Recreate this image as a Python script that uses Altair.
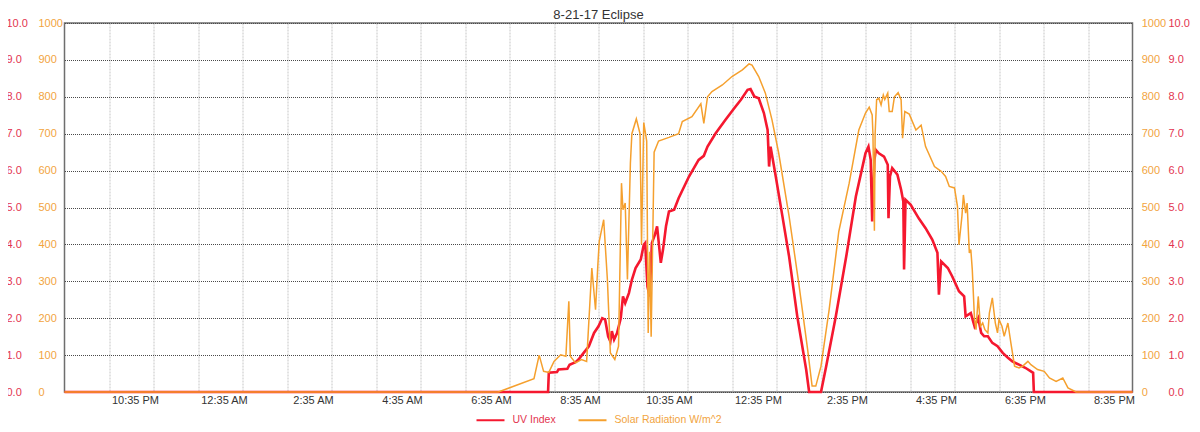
import altair as alt
import pandas as pd

TITLE = "8-21-17 Eclipse"
START = "2017-08-20 21:00"
END = "2017-08-21 21:00"
DAY = "2017-08-21"

SERIES = ["UV Index", "Solar Radiation W/m^2"]

uv_times = ["07:52", "07:53", "08:04", "08:06", "08:18", "08:21", "08:29", "08:33", "08:40", "08:47",
            "08:54", "09:00", "09:05", "09:09", "09:13", "09:16", "09:18", "09:21", "09:25", "09:30",
            "09:33", "09:36", "09:41", "09:45", "09:50", "09:57", "10:01", "10:03", "10:06", "10:09",
            "10:12", "10:16", "10:19", "10:24", "10:27", "10:31", "10:35", "10:42", "10:48", "11:02",
            "11:15", "11:22", "11:27", "11:38", "11:51", "12:03", "12:12", "12:21", "12:25", "12:30",
            "12:36", "12:43", "12:48", "12:50", "12:52", "12:59", "13:08", "13:17", "13:28", "13:40",
            "13:44", "14:00", "14:07", "14:20", "14:34", "14:47", "14:55", "15:00", "15:04", "15:07",
            "15:09", "15:12", "15:14", "15:18", "15:25", "15:30", "15:31", "15:33", "15:36", "15:43",
            "15:48", "15:51", "15:52", "15:54", "16:01", "16:12", "16:21", "16:30", "16:37", "16:39",
            "16:42", "16:51", "16:57", "17:06", "17:13", "17:15", "17:22", "17:27", "17:32", "17:36",
            "17:40", "17:45", "17:51", "17:58", "18:05", "18:12", "18:18", "18:27", "18:36", "18:43",
            "18:46", "18:47"]
uv_values = [0, 0.52, 0.54, 0.61, 0.63, 0.74, 0.81, 0.88, 1.06, 1.24,
             1.6, 1.78, 2.0, 1.96, 1.51, 1.37, 1.65, 1.42, 1.6, 2.0,
             2.59, 2.41, 2.68, 3.04, 3.36, 3.59, 3.99, 4.04, 2.86, 2.59,
             4.04, 4.26, 4.49, 3.5, 3.86, 4.49, 4.89, 4.94, 5.25, 5.84,
             6.29, 6.4, 6.65, 7.01, 7.37, 7.69, 7.92, 8.19, 8.21, 8.01,
             7.96, 7.56, 7.1, 6.11, 6.65, 5.84, 4.76, 3.67, 2.05, 0.61,
             0, 0, 0.7, 2.05, 3.67, 5.3, 6.02, 6.47, 6.65, 6.29,
             4.62, 6.29, 6.56, 6.47, 6.38, 6.16, 4.71, 5.84, 6.07, 5.89,
             5.48, 5.16, 3.32, 5.21, 5.07, 4.7, 4.44, 4.13, 3.77, 2.64,
             3.54, 3.36, 3.13, 2.73, 2.59, 2.05, 2.14, 1.78, 2.0, 1.6,
             1.51, 1.51, 1.33, 1.24, 1.06, 0.93, 0.83, 0.74, 0.65, 0.56,
             0.52, 0]

solar_times = ["06:45", "07:33", "07:40", "07:46", "07:53", "08:00", "08:09", "08:16", "08:20", "08:22",
               "08:29", "08:37", "08:44", "08:51", "08:56", "08:59", "09:01", "09:07", "09:12", "09:16",
               "09:22", "09:27", "09:31", "09:33", "09:36", "09:39", "09:43", "09:45", "09:51", "09:56",
               "09:58", "10:01", "10:05", "10:07", "10:09", "10:11", "10:15", "10:21", "10:35", "10:48",
               "10:53", "11:06", "11:18", "11:22", "11:27", "11:33", "11:47", "12:00", "12:14", "12:23",
               "12:27", "12:36", "12:45", "12:54", "13:03", "13:17", "13:30", "13:42", "13:48", "13:53",
               "14:00", "14:11", "14:24", "14:38", "14:51", "15:00", "15:05", "15:09", "15:10", "15:12",
               "15:13", "15:15", "15:18", "15:21", "15:24", "15:26", "15:30", "15:32", "15:36", "15:39",
               "15:44", "15:48", "15:50", "15:53", "15:59", "16:08", "16:15", "16:21", "16:33", "16:42",
               "16:48", "16:53", "17:00", "17:04", "17:06", "17:10", "17:12", "17:15", "17:17", "17:20",
               "17:22", "17:24", "17:27", "17:29", "17:32", "17:35", "17:38", "17:41", "17:45", "17:47",
               "17:51", "17:55", "17:58", "18:00", "18:04", "18:07", "18:12", "18:16", "18:21", "18:27",
               "18:32", "18:39", "18:43", "18:52", "19:01", "19:08", "19:17", "19:26", "19:33", "19:44"]
solar_values = [0, 36, 100, 56, 53, 83, 101, 97, 246, 97,
                79, 88, 83, 336, 223, 340, 408, 467, 304, 106,
                88, 124, 566, 494, 512, 305, 620, 700, 740, 700,
                400, 730, 680, 160, 380, 150, 650, 680, 690, 700,
                733, 746, 781, 728, 800, 814, 832, 855, 873, 889,
                886, 855, 810, 737, 647, 476, 295, 115, 16, 16,
                70, 223, 435, 566, 710, 756, 772, 751, 701, 437,
                701, 792, 796, 778, 805, 793, 810, 760, 760, 800,
                811, 792, 688, 760, 753, 710, 723, 665, 611, 598,
                584, 557, 553, 503, 399, 476, 534, 485, 512, 377,
                386, 331, 196, 169, 259, 178, 187, 169, 160, 214,
                255, 187, 160, 196, 178, 151, 187, 133, 70, 65,
                70, 83, 74, 61, 56, 38, 29, 38, 11, 0]

uv_ticks = [0, 1, 2, 3, 4, 5, 6, 7, 8, 9, 10]
solar_ticks = [0, 100, 200, 300, 400, 500, 600, 700, 800, 900, 1000]
hour_ticks = list(range(60, 1440, 60))  # minutes after START (hourly grid)

FONT = "Liberation Sans"
RED = "#f5182f"
ORANGE = "#f5a02e"
RED_LABEL = "#e3344f"
ORANGE_LABEL = "#f2a43e"


def frame(times, values, name):
    t = pd.to_datetime([START] + [DAY + " " + s for s in times] + [END])
    v = [0] + list(values) + [0]
    mins = (t - pd.Timestamp(START)).total_seconds() / 60
    return pd.DataFrame({"minute": list(mins), "value": v, "series": name})


uv_df = frame(uv_times, uv_values, SERIES[0])
solar_df = frame(solar_times, solar_values, SERIES[1])

W = 1068
H = 369
label_shift = 35 / 60 * W / 24

label_expr = (
    "(datum.value / 60) % 2 == 1 ? "
    "(((21 + datum.value / 60) % 12 == 0 ? 12 : (21 + datum.value / 60) % 12) + ':35 ' + "
    "((21 + datum.value / 60) % 24 < 12 ? 'AM' : 'PM')) : ''"
)

x_enc = alt.X(
    "minute:Q",
    scale=alt.Scale(domain=[0, 1440], nice=False, zero=False),
    axis=alt.Axis(values=hour_ticks, grid=True, gridColor="#c6c6c6", gridDash=[2, 1],
                  ticks=False, domain=False, labelExpr=label_expr, labelOffset=label_shift,
                  labelPadding=2, labelColor="#333333", labelFontSize=11, labelFont=FONT,
                  labelFlush=False, labelOverlap=False, title=None),
)

color_enc = alt.Color(
    "series:N",
    scale=alt.Scale(domain=SERIES, range=[RED, ORANGE]),
    legend=alt.Legend(orient="none", legendX=411, legendY=382, direction="horizontal",
                      title=None, symbolType="stroke", symbolSize=784, symbolStrokeWidth=2,
                      labelFontSize=10.5, labelFont=FONT, labelOffset=7, columnPadding=18,
                      labelColor={"expr": "datum.label == 'UV Index' ? '%s' : '%s'" % (RED_LABEL, ORANGE_LABEL)}),
)


def y_axis(orient, ticks, fmt, pad, color, grid=False):
    return alt.Axis(orient=orient, values=ticks, format=fmt, grid=grid, gridColor="#4a4a4a",
                    gridDash=[1, 1], gridWidth=1, ticks=False, domain=False, labelAlign="left",
                    labelBaseline="middle", labelPadding=pad, labelColor=color, labelFontSize=11,
                    labelFont=FONT, title=None, labelFlush=False, labelOverlap=False)


uv_line = alt.Chart(uv_df).mark_line(strokeWidth=2.6).encode(
    x=x_enc,
    y=alt.Y("value:Q", scale=alt.Scale(domain=[0, 10], nice=False),
            axis=y_axis("left", uv_ticks, ".1f", 58.5, RED_LABEL, grid=True)),
    color=color_enc,
)

solar_line = alt.Chart(solar_df).mark_line(strokeWidth=1.5).encode(
    x=x_enc,
    y=alt.Y("value:Q", scale=alt.Scale(domain=[0, 1000], nice=False),
            axis=y_axis("left", solar_ticks, "d", 26.5, ORANGE_LABEL)),
    color=color_enc,
)

solar_right = alt.Chart(solar_df).mark_line(opacity=0, color=ORANGE).encode(
    x=x_enc,
    y=alt.Y("value:Q", scale=alt.Scale(domain=[0, 1000], nice=False),
            axis=y_axis("right", solar_ticks, "d", 8.7, ORANGE_LABEL)),
)

uv_right = alt.Chart(uv_df).mark_line(opacity=0, color=RED).encode(
    x=x_enc,
    y=alt.Y("value:Q", scale=alt.Scale(domain=[0, 10], nice=False),
            axis=y_axis("right", uv_ticks, ".1f", 35.5, RED_LABEL)),
)

chart = (
    alt.layer(uv_line, solar_line, solar_right, uv_right)
    .resolve_scale(y="independent")
    .resolve_axis(y="independent")
    .properties(
        width=W,
        height=H,
        title=alt.TitleParams(TITLE, anchor="middle", fontSize=13, font=FONT, fontWeight="normal",
                              color="#333333", offset=-5),
        autosize=alt.AutoSizeParams(type="none"),
        padding={"left": 56.5, "top": 15, "right": 59.5, "bottom": 32},
        background="white",
    )
    .configure_view(stroke="#6e6e6e", strokeWidth=1.5)
)

chart.save("out.html", embed_options={"renderer": "svg", "actions": False})
